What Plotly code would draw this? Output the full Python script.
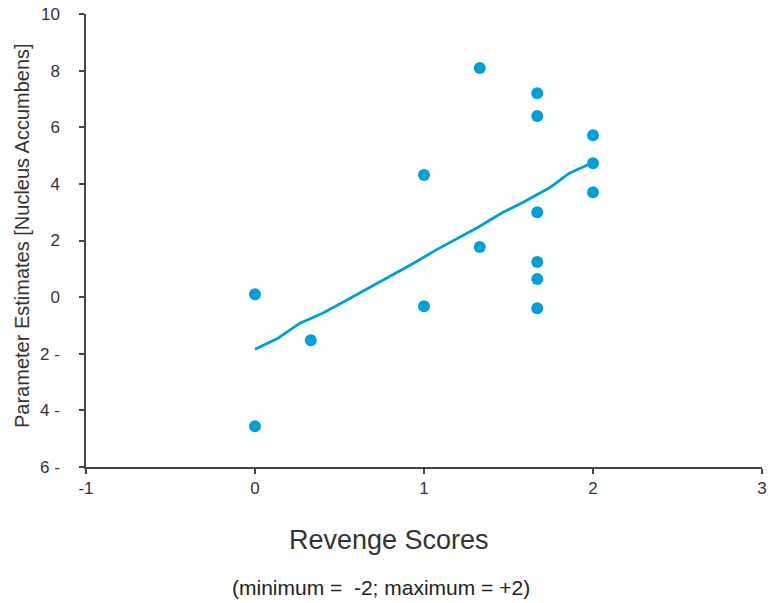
import plotly.graph_objects as go

# Data
revenge_scores = [0, 0, 0.33, 1, 1, 1.33, 1.33, 1.67, 1.67, 1.67, 1.67, 1.67, 1.67, 2, 2, 2]
nucleus_accumbens = [0.1, -4.56, -1.52, 4.31, -0.32, 8.09, 1.77, 7.2, 6.4, 3.0, 1.24, 0.64, -0.39, 5.72, 4.73, 3.7]

fit_x = [0, 0.136, 0.266, 0.40, 0.52, 0.66, 0.79, 0.93, 1.07, 1.20, 1.32, 1.46, 1.59, 1.75, 1.86, 1.98]
fit_y = [-1.84, -1.45, -0.92, -0.57, -0.18, 0.28, 0.71, 1.17, 1.66, 2.08, 2.47, 2.97, 3.36, 3.89, 4.38, 4.70]

y_tick_vals = [-6, -4, -2, 0, 2, 4, 6, 8, 10]
y_tick_text = ["6 -", "4 -", "2 -", "0", "2", "4", "6", "8", "10"]
x_tick_vals = [-1, 0, 1, 2, 3]
x_tick_text = ["-1", "0", "1", "2", "3"]

color = "#00a0d6"
font_family = "Liberation Sans, Arial, sans-serif"

W, H = 769, 603
L, R, T, B = 86, 7, 14, 136
pw, ph = W - L - R, H - T - B

fig = go.Figure()
fig.add_trace(go.Scatter(x=fit_x, y=fit_y, mode="lines",
                         line=dict(color=color, width=2.8), showlegend=False))
fig.add_trace(go.Scatter(x=revenge_scores, y=nucleus_accumbens, mode="markers",
                         marker=dict(color=color, size=12, symbol="circle"),
                         showlegend=False))

fig.update_layout(
    width=W, height=H,
    margin=dict(l=L, r=R, t=T, b=B),
    paper_bgcolor="white", plot_bgcolor="white",
    font=dict(family=font_family, color="#333333"),
    xaxis=dict(range=[-1, 3], tickmode="array", tickvals=x_tick_vals, ticktext=x_tick_text,
               showgrid=False, zeroline=False, showline=True, linecolor="#444444", linewidth=1.5,
               ticks="outside", ticklen=5, tickcolor="#444444", tickwidth=1.5,
               tickfont=dict(size=17, color="#333333"), automargin=False),
    yaxis=dict(range=[-6, 10], tickmode="array", tickvals=y_tick_vals, ticktext=y_tick_text,
               showgrid=False, zeroline=False, showline=True, linecolor="#444444", linewidth=1.5,
               ticks="outside", ticklen=5, tickcolor="#444444", tickwidth=1.5,
               tickfont=dict(size=17, color="#333333"), automargin=False,
               ticklabelstandoff=16),
    annotations=[
        dict(text="Parameter Estimates [Nucleus Accumbens]", xref="paper", yref="paper",
             x=(22 - L) / pw, xanchor="center", y=(H - B - 236) / ph, yanchor="middle",
             textangle=-90, showarrow=False, font=dict(size=20, color="#333333")),
        dict(text="Revenge Scores", xref="paper", yref="paper",
             x=(389 - L) / pw, xanchor="center", y=-(540 - (H - B)) / ph, yanchor="middle",
             showarrow=False, font=dict(size=27, color="#333333")),
        dict(text="(minimum =  -2; maximum = +2)", xref="paper", yref="paper",
             x=(381 - L) / pw, xanchor="center", y=-(587 - (H - B)) / ph, yanchor="middle",
             showarrow=False, font=dict(size=21, color="#222222")),
    ],
)

fig.write_html("out.html", config={"displayModeBar": False},
               post_script="document.body.style.margin='0';")
